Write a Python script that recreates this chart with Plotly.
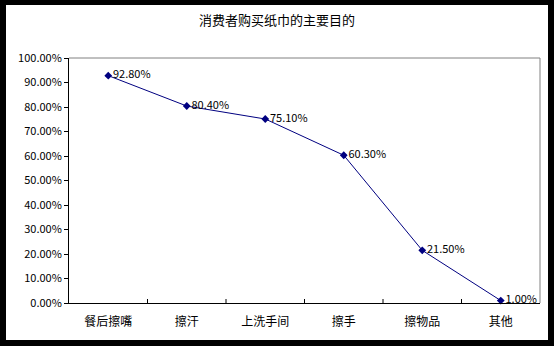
import plotly.graph_objects as go

categories = ["餐后擦嘴", "擦汗", "上洗手间", "擦手", "擦物品", "其他"]
values = [0.928, 0.804, 0.751, 0.603, 0.215, 0.010]
labels = ["92.80%", "80.40%", "75.10%", "60.30%", "21.50%", "1.00%"]
yticks = [i / 10 for i in range(11)]
yticktext = ["%.2f%%" % (v * 100) for v in yticks]
title = "消费者购买纸巾的主要目的"

W, H = 554, 346
L, R, T, B = 69, 540, 58, 303
FONT = "SimSun, Noto Sans CJK SC, sans-serif"

fig = go.Figure()
fig.add_trace(go.Scatter(
    x=list(range(len(categories))), y=values,
    mode="lines+markers+text",
    line=dict(color="#000080", width=1),
    marker=dict(symbol="diamond", size=6, color="#000080"),
    text=labels, textposition="middle right",
    textfont=dict(family=FONT, size=11, color="black"),
    cliponaxis=False, showlegend=False,
))

def px(x):
    return (x - L) / (R - L)

def py(y):
    return (B - y) / (B - T)

shapes = [
    dict(type="rect", xref="paper", yref="paper", layer="below",
         x0=px(6), x1=px(548), y0=py(340), y1=py(5),
         fillcolor="white", line=dict(width=0)),
    dict(type="line", xref="paper", yref="paper",
         x0=0, x1=1, y0=1, y1=1, line=dict(color="#808080", width=1)),
    dict(type="line", xref="paper", yref="paper",
         x0=1, x1=1, y0=0, y1=1, line=dict(color="#808080", width=1)),
]
# x tick marks at category boundaries pointing up
for i in range(1, len(categories)):
    shapes.append(dict(type="line", xref="x", yref="paper",
                       x0=i - 0.5, x1=i - 0.5, y0=0, y1=4 / (B - T),
                       line=dict(color="black", width=1)))

fig.update_layout(
    width=W, height=H,
    margin=dict(l=L, r=W - R, t=T, b=H - B),
    paper_bgcolor="black", plot_bgcolor="white",
    title=dict(text=title, x=277 / W, xanchor="center", y=1 - 20 / H, yanchor="middle",
               font=dict(family=FONT, size=13, color="black")),
    shapes=shapes,
    xaxis=dict(range=[-0.5, len(categories) - 0.5], tickvals=list(range(len(categories))),
               ticktext=categories, showgrid=False, zeroline=False, ticks="",
               showline=True, linecolor="black", linewidth=1, ticklabelstandoff=8,
               tickfont=dict(family=FONT, size=12, color="black")),
    yaxis=dict(range=[0, 1], tickvals=yticks, ticktext=yticktext, showgrid=False,
               zeroline=False, ticks="outside", ticklen=4, tickcolor="black",
               showline=True, linecolor="black", linewidth=1,
               tickfont=dict(family=FONT, size=11, color="black")),
)
fig.write_html("out.html")
